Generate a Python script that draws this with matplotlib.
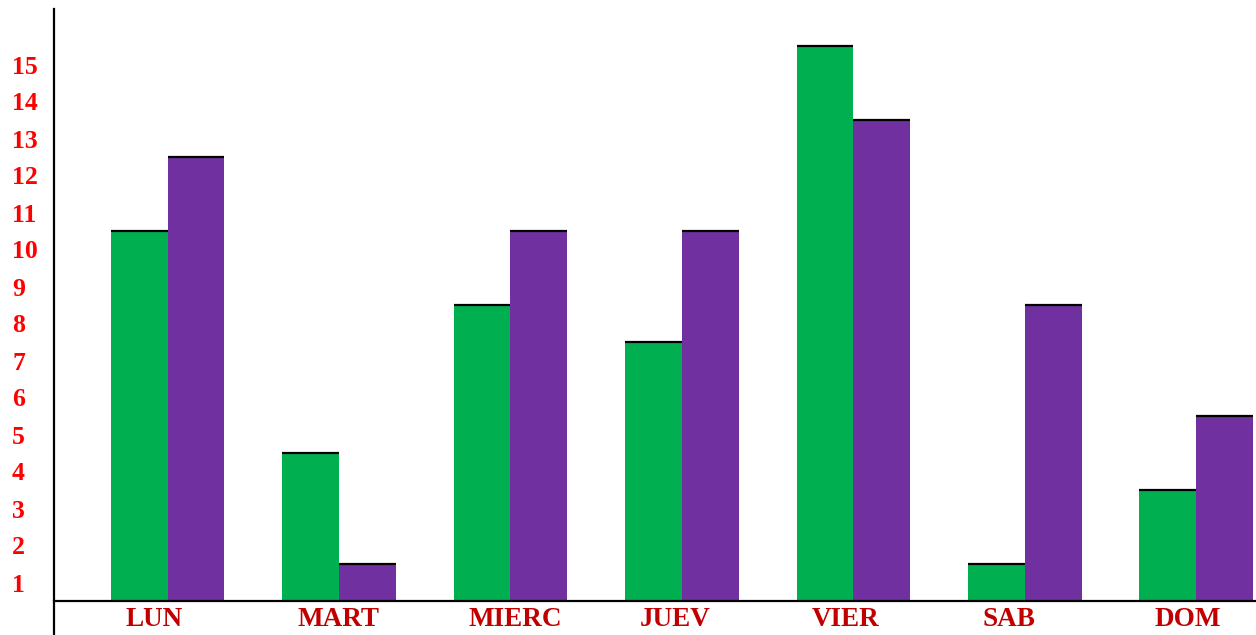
import matplotlib
matplotlib.use("Agg")
import matplotlib.pyplot as plt
import matplotlib.transforms as mtransforms
import numpy as np

categories = ["LUN", "MART", "MIERC", "JUEV", "VIER", "SAB", "DOM"]
green_vals = [10, 4, 8, 7, 15, 1, 3]
purple_vals = [12, 1, 10, 10, 13, 8, 5]
ytick_labels = [str(k) for k in range(1, 16)]

W, H = 1256, 635
fig = plt.figure(figsize=(W / 100, H / 100), dpi=100)
ax = fig.add_axes([54 / W, 0, (W - 54) / W, (H - 9) / H])

x = np.arange(len(categories))
bw = 57 / 172
ax.bar(x - bw / 2, green_vals, width=bw, color="#00B050", linewidth=0)
ax.bar(x + bw / 2, purple_vals, width=bw, color="#7030A0", linewidth=0)
ax.hlines(green_vals, x - bw, x, colors="black", linewidth=1.6)
ax.hlines(purple_vals, x, x + bw, colors="black", linewidth=1.6)

ax.set_xlim(-114 / 172, 6 + 60 / 172)
ax.set_ylim(-34 / 37, 16)

for s in ["top", "right"]:
    ax.spines[s].set_visible(False)
ax.spines["bottom"].set_position(("data", 0))
ax.spines["bottom"].set_linewidth(1.6)
ax.spines["left"].set_linewidth(1.6)

ax.set_xticks(x, categories)
ax.set_yticks(np.arange(1, 16) - 0.5, ytick_labels)
ax.tick_params(axis="both", length=0)
ax.tick_params(axis="y", pad=30.2)
ax.tick_params(axis="x", pad=4)
for lab in ax.get_yticklabels():
    lab.set_ha("left")
    lab.set_family("Liberation Serif")
    lab.set_weight("bold")
    lab.set_fontsize(18.5)
    lab.set_color("#FF0000")
shift = mtransforms.ScaledTranslation(-42 / 100, 0, fig.dpi_scale_trans)
for lab in ax.get_xticklabels():
    lab.set_ha("left")
    lab.set_transform(lab.get_transform() + shift)
    lab.set_family("Liberation Serif")
    lab.set_weight("bold")
    lab.set_fontsize(19.5)
    lab.set_color("#C00000")

fig.savefig("out.png", dpi=100)
